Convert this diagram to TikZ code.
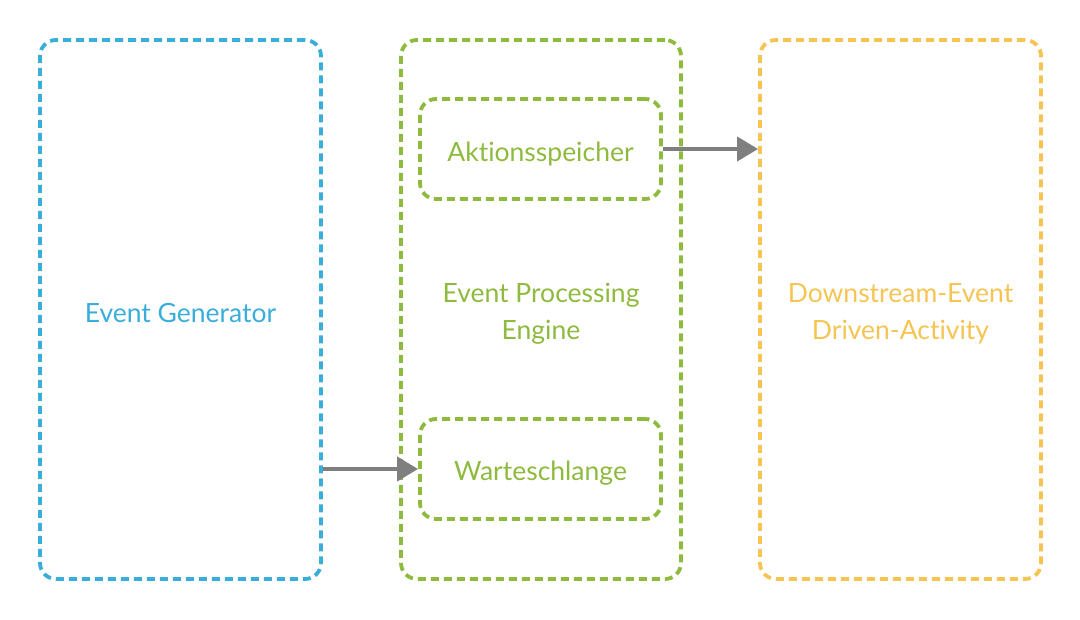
\documentclass[tikz,border=0pt]{standalone}
\usepackage{fontspec}
\setmainfont{Lato}[Ligatures={NoCommon}]
\usetikzlibrary{arrows.meta}
\definecolor{cblue}{HTML}{3AAEDA}
\definecolor{cgreen}{HTML}{8EBA3E}
\definecolor{corange}{HTML}{F5C453}
\definecolor{cgrey}{HTML}{7F7F7F}
\begin{document}
\begin{tikzpicture}[x=1pt,y=-1pt,
  box/.style={draw, line width=3.8pt, dash pattern=on 8pt off 5pt, rounded corners=16pt, inner sep=0pt},
  txt/.style={inner sep=0pt, align=center, yshift=-4pt, font=\fontsize{26.5}{37}\selectfont},
  conn/.style={draw=cgrey, line width=4pt, -{Triangle[length=21pt,width=24pt]}}]
\useasboundingbox (0,0) rectangle (1080,620);
\node[box, draw=cblue, minimum width=281pt, minimum height=539pt] (gen) at (180.5,309.5) {};
\node[box, draw=cgreen, minimum width=280pt, minimum height=539pt] (eng) at (541,309.5) {};
\node[box, draw=corange, minimum width=281pt, minimum height=539pt] (down) at (900.5,309.5) {};
\node[box, draw=cgreen, minimum width=241pt, minimum height=100pt] (akt) at (540.5,149) {};
\node[box, draw=cgreen, minimum width=241pt, minimum height=100pt] (warte) at (540.5,469) {};
\node[txt, text=cblue] (gent) at (gen.center) {Event Generator};
\node[txt, text=cgreen] (engt) at (eng.center) {Event Processing\\Engine};
\node[txt, text=corange] (downt) at (down.center) {Downstream-Event\\Driven-Activity};
\node[txt, text=cgreen, yshift=-1pt] (aktt) at (akt.center) {Aktionsspeicher};
\node[txt, text=cgreen] (wartet) at (warte.center) {Warteschlange};
\coordinate (g1) at (gen.east |- warte);
\coordinate (d1) at (down.west |- akt);
\draw[conn] (g1) -- (warte.west);
\draw[conn] (akt.east) -- (d1);
\end{tikzpicture}
\end{document}
